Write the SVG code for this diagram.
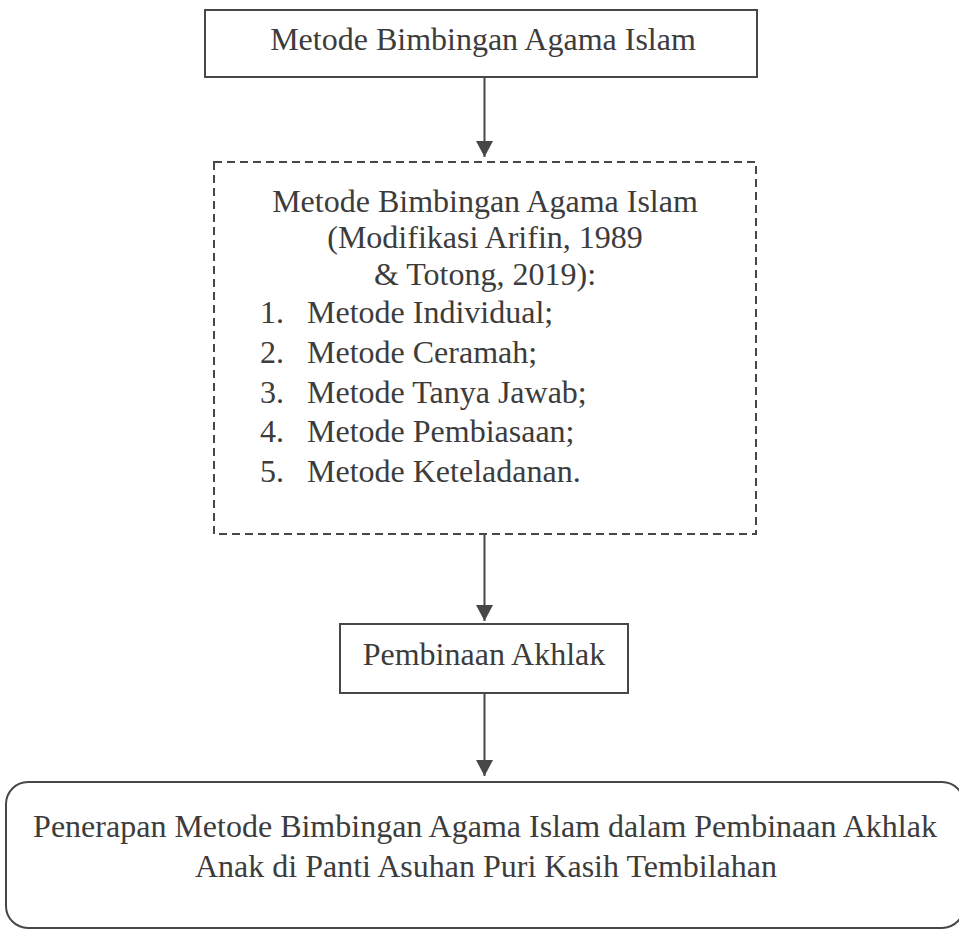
<svg xmlns="http://www.w3.org/2000/svg" width="959" height="930" viewBox="0 0 959 930">
<style>
.box{fill:none;stroke:#474747;stroke-width:2}
.dash{fill:none;stroke:#474747;stroke-width:2;stroke-dasharray:8 5}
.t{font-family:"Liberation Serif","Times New Roman",serif;font-size:32px;fill:#3c3c3c}
.c{text-anchor:middle}
.conn{stroke:#474747;stroke-width:2;fill:none}
</style>
<defs>
<marker id="ah" markerUnits="userSpaceOnUse" markerWidth="18" markerHeight="18" refX="16" refY="8.5" orient="auto">
<path d="M0,0 L16,8.5 L0,17 Z" fill="#474747"/>
</marker>
</defs>
<rect width="959" height="930" fill="#ffffff"/>
<g id="connectors">
<line class="conn" x1="484.5" y1="77" x2="484.5" y2="157" marker-end="url(#ah)"/>
<line class="conn" x1="484.5" y1="534" x2="484.5" y2="621" marker-end="url(#ah)"/>
<line class="conn" x1="484.5" y1="693" x2="484.5" y2="776" marker-end="url(#ah)"/>
</g>
<g id="node-top">
<rect class="box" x="205" y="10" width="552" height="67"/>
<text class="t c" x="483" y="50">Metode Bimbingan Agama Islam</text>
</g>
<g id="node-methods">
<rect class="dash" x="214" y="162" width="542" height="372"/>
<text class="t c" x="485" y="212">Metode Bimbingan Agama Islam</text>
<text class="t c" x="485" y="248">(Modifikasi Arifin, 1989</text>
<text class="t c" x="485" y="285">&amp; Totong, 2019):</text>
<text class="t" x="260" y="323">1.</text><text class="t" x="307" y="323">Metode Individual;</text>
<text class="t" x="260" y="363">2.</text><text class="t" x="307" y="363">Metode Ceramah;</text>
<text class="t" x="260" y="403">3.</text><text class="t" x="307" y="403">Metode Tanya Jawab;</text>
<text class="t" x="260" y="442">4.</text><text class="t" x="307" y="442">Metode Pembiasaan;</text>
<text class="t" x="260" y="482">5.</text><text class="t" x="307" y="482">Metode Keteladanan.</text>
</g>
<g id="node-akhlak">
<rect class="box" x="340" y="624" width="288" height="69"/>
<text class="t c" x="484" y="665">Pembinaan Akhlak</text>
</g>
<g id="node-result">
<rect class="box" x="6" y="782" width="958" height="146" rx="22" ry="22"/>
<text class="t c" x="485" y="837">Penerapan Metode Bimbingan Agama Islam dalam Pembinaan Akhlak</text>
<text class="t c" x="486" y="877">Anak di Panti Asuhan Puri Kasih Tembilahan</text>
</g>
</svg>
